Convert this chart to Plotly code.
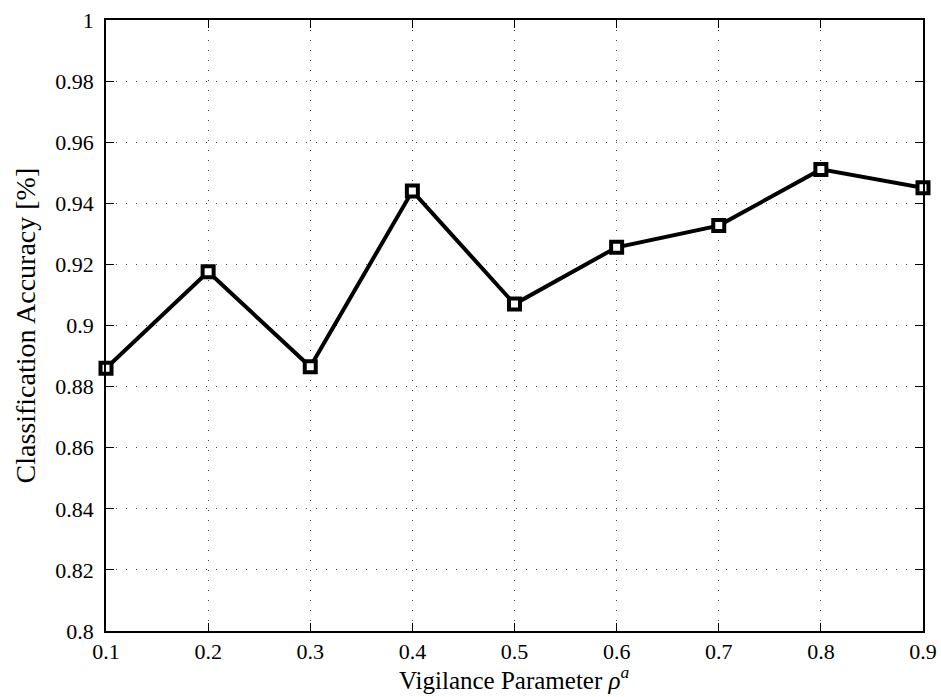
import plotly.graph_objects as go

vigilance = [0.1, 0.2, 0.3, 0.4, 0.5, 0.6, 0.7, 0.8, 0.9]
accuracy = [0.886, 0.9176, 0.8865, 0.944, 0.907, 0.9256, 0.9327, 0.9511, 0.9451]

x_ticks = [0.1, 0.2, 0.3, 0.4, 0.5, 0.6, 0.7, 0.8, 0.9]
y_ticks = [0.8, 0.82, 0.84, 0.86, 0.88, 0.9, 0.92, 0.94, 0.96, 0.98, 1.0]
y_labels = ["0.8", "0.82", "0.84", "0.86", "0.88", "0.9", "0.92", "0.94", "0.96", "0.98", "1"]

x_title = "Vigilance Parameter <i>ρ</i><sup><i>a</i></sup>"
y_title = "Classification Accuracy [%]"

font_family = "Liberation Serif"

fig = go.Figure()
fig.add_trace(go.Scatter(
    x=vigilance, y=accuracy, mode="lines+markers",
    line=dict(color="black", width=4),
    marker=dict(symbol="square", size=11, color="white",
                line=dict(color="black", width=4)),
    cliponaxis=False, showlegend=False,
))

axis_common = dict(
    showline=True, linecolor="black", linewidth=1.5, mirror="ticks",
    ticks="inside", ticklen=8, tickwidth=1, tickcolor="black",
    showgrid=True, gridcolor="#444444", gridwidth=1, griddash="1px,9px",
    zeroline=False, tickfont=dict(family=font_family, size=22, color="black"),
)

fig.update_xaxes(
    range=[0.1, 0.9], tickvals=x_ticks, ticktext=[f"{v:g}" for v in x_ticks],
    ticklabelstandoff=0, **axis_common,
)
fig.update_yaxes(
    range=[0.8, 1.0], tickvals=y_ticks, ticktext=y_labels,
    ticklabelstandoff=6, **axis_common,
)

fig.add_annotation(
    text=x_title, xref="paper", yref="paper", x=0.5, y=-0.077,
    xanchor="center", yanchor="middle", showarrow=False,
    font=dict(family=font_family, size=25, color="black"),
)
fig.add_annotation(
    text=y_title, xref="paper", yref="paper", x=-0.098, y=0.5,
    xanchor="center", yanchor="middle", textangle=-90, showarrow=False,
    font=dict(family=font_family, size=28, color="black"),
)

fig.update_layout(
    width=941, height=697,
    margin=dict(l=106, r=18, t=20, b=66, autoexpand=False),
    plot_bgcolor="white", paper_bgcolor="white",
    font=dict(family=font_family, color="black"),
)

fig.write_html("out.html")
